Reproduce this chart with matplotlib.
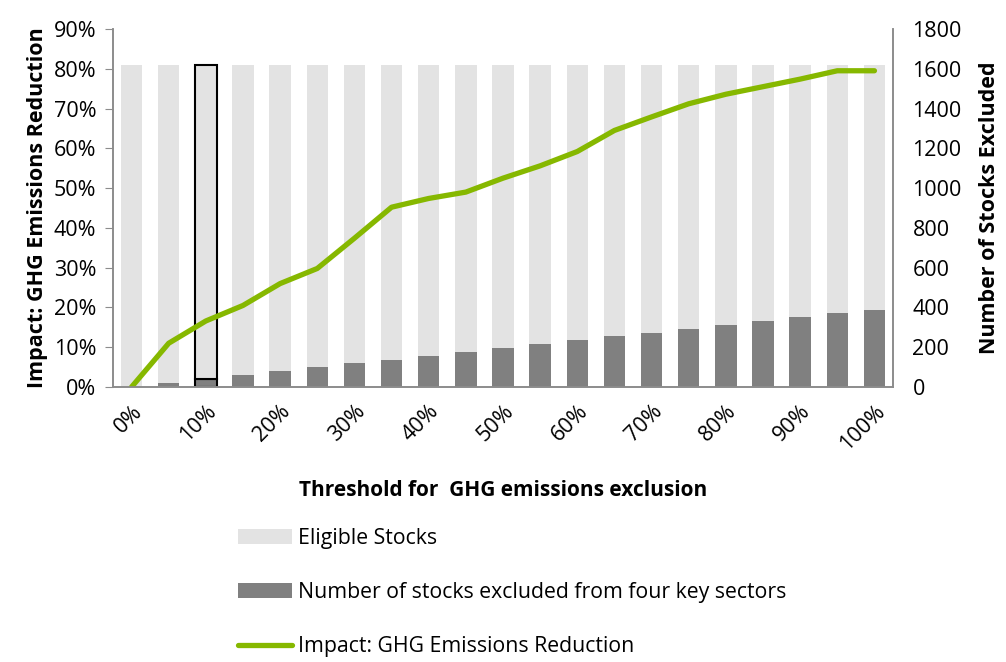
import numpy as np
import matplotlib
matplotlib.use("Agg")
import matplotlib.pyplot as plt

plt.rcParams['font.family'] = ['Open Sans', 'DejaVu Sans']

thresholds = ["0%", "5%", "10%", "15%", "20%", "25%", "30%", "35%", "40%", "45%", "50%",
              "55%", "60%", "65%", "70%", "75%", "80%", "85%", "90%", "95%", "100%"]
excluded = [0, 20, 40, 60, 80, 99, 119, 138, 157, 176, 195,
            215, 235, 254, 273, 292, 312, 331, 350, 370, 388]
total_stocks = 1618
eligible = [total_stocks - e for e in excluded]
impact = [0.0, 0.110, 0.166, 0.205, 0.260, 0.298, 0.374, 0.452, 0.474, 0.490, 0.525,
          0.556, 0.592, 0.645, 0.679, 0.712, 0.736, 0.755, 0.774, 0.795, 0.795]

light = '#e3e3e3'
dark = '#808080'
green = '#86b800'
axis_grey = '#8c8c8c'

fig = plt.figure(figsize=(10.06, 6.62), dpi=100)
ax = fig.add_axes([0.1123, 0.4154, 0.7754, 0.5408])
ax2 = ax.twinx()

x = np.arange(len(thresholds))
edges = ['black' if t == "10%" else 'none' for t in thresholds]
ax2.bar(x, excluded, width=0.58, color=dark, edgecolor=edges, linewidth=1.5,
        label="Number of stocks excluded from four key sectors")
ax2.bar(x, eligible, width=0.58, bottom=excluded, color=light, edgecolor=edges,
        linewidth=1.5, label="Eligible Stocks")
ax.plot(x, impact, color=green, linewidth=3.8, solid_capstyle='round',
        label="Impact: GHG Emissions Reduction")

ax.set_zorder(ax2.get_zorder() + 1)
ax.patch.set_visible(False)

ax.set_xlim(-0.5, len(thresholds) - 0.5)
ax.set_ylim(0, 0.9)
ax2.set_ylim(0, 1800)
ax.set_yticks(np.arange(0, 0.91, 0.1))
ax.set_yticklabels([f"{int(round(v * 100))}%" for v in np.arange(0, 0.91, 0.1)])
ax2.set_yticks(np.arange(0, 1801, 200))

ax.set_xticks(x[::2])
ax.set_xticklabels(thresholds[::2], rotation=45, ha='right', rotation_mode='anchor')

for a in (ax, ax2):
    a.spines['top'].set_visible(False)
    for s in ('left', 'right', 'bottom'):
        a.spines[s].set_color(axis_grey)
        a.spines[s].set_linewidth(1.2)
ax.tick_params(axis='y', length=6, color=axis_grey, labelsize=15.5, pad=6)
ax.tick_params(axis='x', length=0, labelsize=15.5, pad=10)
ax2.tick_params(axis='y', length=0, labelsize=15.5, pad=14)

ax.set_ylabel("Impact: GHG Emissions Reduction", fontsize=15.5, fontweight='bold', labelpad=4)
ax2.set_ylabel("Number of Stocks Excluded", fontsize=15.5, fontweight='bold', labelpad=12)
ax.set_xlabel("Threshold for  GHG emissions exclusion", fontsize=15, fontweight='bold', labelpad=18)

h1, l1 = ax2.get_legend_handles_labels()
h2, l2 = ax.get_legend_handles_labels()
handles = [h1[1], h1[0], h2[0]]
labels = [l1[1], l1[0], l2[0]]
fig.legend(handles, labels, loc='upper left', bbox_to_anchor=(0.237, 0.202),
           frameon=False, fontsize=15.3, handlelength=2.5, handletextpad=0.3,
           labelspacing=1.55, borderpad=0, borderaxespad=0)

fig.savefig("out.png", dpi=100)
